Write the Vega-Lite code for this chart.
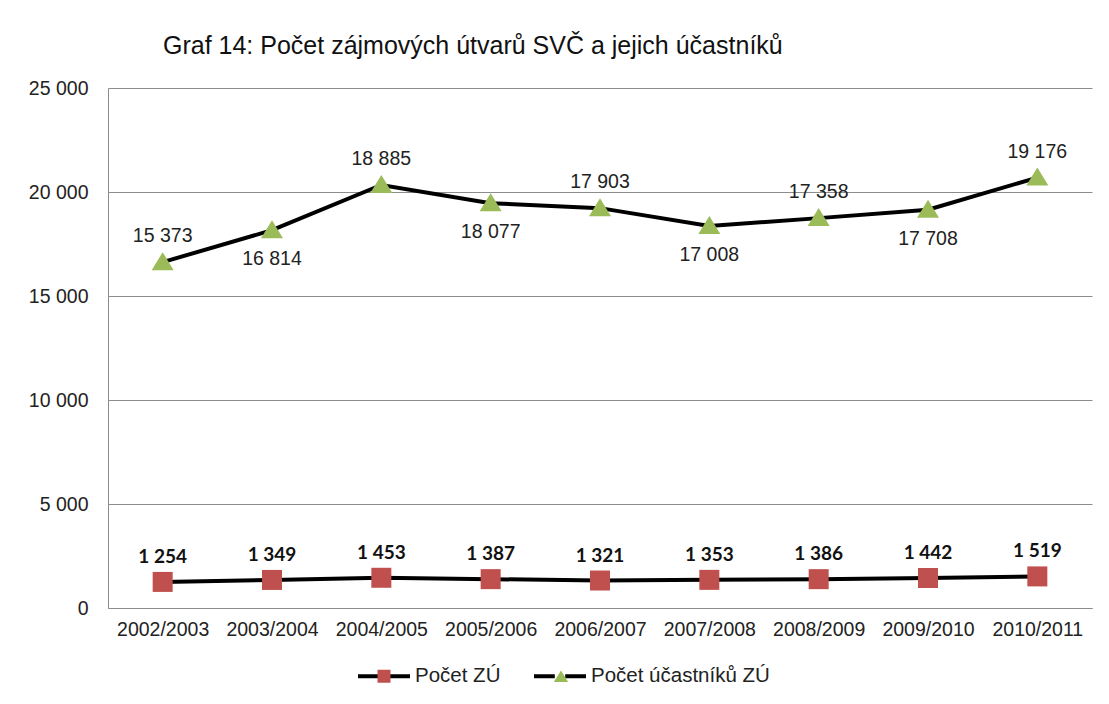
{
  "$schema": "https://vega.github.io/schema/vega-lite/v6.json",
  "width": 984,
  "height": 520,
  "autosize": {"type": "none"},
  "padding": {"left": 108, "top": 88, "right": 17, "bottom": 96},
  "background": "white",
  "config": {
    "locale": {"number": {"decimal": ",", "thousands": " ", "grouping": [3], "currency": ["", " Kč"]}},
    "view": {"stroke": null},
    "font": "Liberation Sans"
  },
  "title": {
    "text": "Graf 14: Počet zájmových útvarů SVČ a jejich účastníků",
    "anchor": "start",
    "frame": "group",
    "dx": 55,
    "offset": 19,
    "fontSize": 25,
    "fontWeight": "normal",
    "font": "Liberation Sans",
    "color": "#111"
  },
  "data": {
    "values": [
      {"year": "2002/2003", "series": "Počet ZÚ", "value": 1254},
      {"year": "2003/2004", "series": "Počet ZÚ", "value": 1349},
      {"year": "2004/2005", "series": "Počet ZÚ", "value": 1453},
      {"year": "2005/2006", "series": "Počet ZÚ", "value": 1387},
      {"year": "2006/2007", "series": "Počet ZÚ", "value": 1321},
      {"year": "2007/2008", "series": "Počet ZÚ", "value": 1353},
      {"year": "2008/2009", "series": "Počet ZÚ", "value": 1386},
      {"year": "2009/2010", "series": "Počet ZÚ", "value": 1442},
      {"year": "2010/2011", "series": "Počet ZÚ", "value": 1519},
      {"year": "2002/2003", "series": "Počet účastníků ZÚ", "value": 15373},
      {"year": "2003/2004", "series": "Počet účastníků ZÚ", "value": 16814},
      {"year": "2004/2005", "series": "Počet účastníků ZÚ", "value": 18885},
      {"year": "2005/2006", "series": "Počet účastníků ZÚ", "value": 18077},
      {"year": "2006/2007", "series": "Počet účastníků ZÚ", "value": 17903},
      {"year": "2007/2008", "series": "Počet účastníků ZÚ", "value": 17008},
      {"year": "2008/2009", "series": "Počet účastníků ZÚ", "value": 17358},
      {"year": "2009/2010", "series": "Počet účastníků ZÚ", "value": 17708},
      {"year": "2010/2011", "series": "Počet účastníků ZÚ", "value": 19176}
    ]
  },
  "transform": [
    {"stack": "value", "groupby": ["year"], "sort": [{"field": "series", "order": "ascending"}], "as": ["base", "top"]}
  ],
  "encoding": {
    "x": {
      "field": "year",
      "type": "ordinal",
      "scale": {"type": "point", "padding": 0.5},
      "axis": {
        "title": null,
        "labelAngle": 0,
        "ticks": false,
        "domainColor": "#8c8c8c",
        "domainWidth": 1,
        "labelFontSize": 19.5,
        "labelColor": "#222",
        "labelPadding": 12,
        "grid": false
      }
    },
    "y": {
      "field": "top",
      "type": "quantitative",
      "scale": {"domain": [0, 25000], "nice": false},
      "axis": {
        "title": null,
        "values": [0, 5000, 10000, 15000, 20000, 25000],
        "format": ",d",
        "ticks": false,
        "domainColor": "#8c8c8c",
        "gridColor": "#8c8c8c",
        "gridWidth": 1,
        "labelFontSize": 19.5,
        "labelColor": "#222",
        "labelPadding": 20
      }
    }
  },
  "layer": [
    {
      "mark": {"type": "line", "strokeWidth": 4, "strokeCap": "butt"},
      "encoding": {
        "color": {
          "field": "series",
          "type": "nominal",
          "scale": {"range": ["#000000", "#000000"]},
          "legend": {
            "title": null,
            "orient": "none",
            "direction": "horizontal",
            "legendX": 248,
            "legendY": 560,
            "padding": 0,
            "symbolType": "M-1,0H-0.2M0.2,0H1",
            "symbolSize": 2704,
            "symbolStrokeWidth": 4,
            "symbolStrokeColor": "#000000",
            "symbolFillColor": "transparent",
            "labelFontSize": 20.5,
            "labelColor": "#222",
            "labelOffset": 3,
            "labelLimit": 400,
            "columnPadding": 25
          }
        }
      }
    },
    {
      "mark": {"type": "point", "filled": true, "size": 6400, "opacity": 1, "strokeWidth": 0},
      "encoding": {
        "fill": {
          "field": "series",
          "type": "nominal",
          "scale": {"domain": ["Počet ZÚ", "Počet účastníků ZÚ"], "range": ["#C0504D", "#9BBB59"]},
          "legend": {
            "title": null,
            "orient": "none",
            "direction": "horizontal",
            "legendX": 248,
            "legendY": 560,
            "padding": 0,
            "symbolSize": 2704,
            "symbolStrokeWidth": 4,
            "symbolStrokeColor": "transparent",
            "symbolOpacity": 1,
            "labelExpr": "''",
            "labelFontSize": 20.5,
            "labelOffset": 3,
            "labelLimit": 400,
            "columnPadding": 118
          }
        },
        "shape": {
          "field": "series",
          "type": "nominal",
          "scale": {
            "domain": ["Počet ZÚ", "Počet účastníků ZÚ"],
            "range": ["M-0.25,-0.25H0.25V0.25H-0.25Z", "M-0.275,0.2L0,-0.25L0.275,0.2Z"]
          },
          "legend": {
            "title": null,
            "orient": "none",
            "direction": "horizontal",
            "legendX": 248,
            "legendY": 560,
            "padding": 0,
            "symbolSize": 2704,
            "symbolStrokeWidth": 4,
            "symbolStrokeColor": "transparent",
            "labelExpr": "''",
            "labelFontSize": 20.5,
            "labelOffset": 3,
            "labelLimit": 400,
            "columnPadding": 118
          }
        }
      }
    },
    {
      "transform": [{"filter": {"field": "series", "equal": "Počet ZÚ"}}],
      "mark": {"type": "text", "font": "Lato", "fontWeight": "bold", "fontSize": 19, "dy": -25, "baseline": "middle", "color": "#111"},
      "encoding": {"text": {"field": "value", "type": "quantitative", "format": ",d"}}
    },
    {
      "transform": [
        {"filter": {"field": "series", "equal": "Počet účastníků ZÚ"}},
        {"filter": {"field": "year", "oneOf": ["2002/2003", "2004/2005", "2006/2007", "2008/2009", "2010/2011"]}}
      ],
      "mark": {"type": "text", "fontSize": 19.5, "dy": -26, "baseline": "middle", "color": "#222"},
      "encoding": {"text": {"field": "value", "type": "quantitative", "format": ",d"}}
    },
    {
      "transform": [
        {"filter": {"field": "series", "equal": "Počet účastníků ZÚ"}},
        {"filter": {"field": "year", "oneOf": ["2003/2004", "2005/2006", "2007/2008", "2009/2010"]}}
      ],
      "mark": {"type": "text", "fontSize": 19.5, "dy": 29, "baseline": "middle", "color": "#222"},
      "encoding": {"text": {"field": "value", "type": "quantitative", "format": ",d"}}
    }
  ]
}
